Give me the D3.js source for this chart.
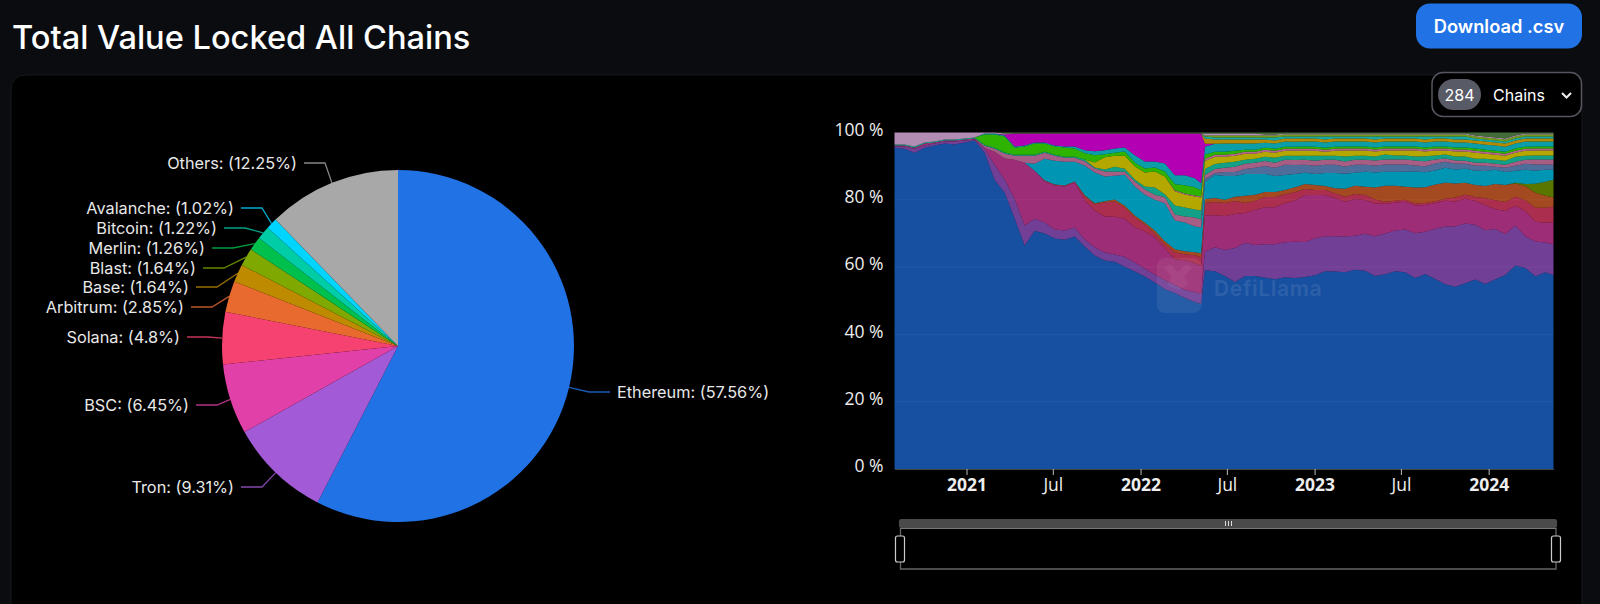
<!DOCTYPE html>
<meta charset="utf-8">
<style>

body {
	background: #0b0c0f;
	margin: 0;
	padding: 0;
	overflow: hidden;
}

svg {
	display: block;
}

text {
	font-family: Inter, "Noto Sans", sans-serif;
	fill: #fff;
}

.axis text {
	font-family: "Open Sans", "Noto Sans", sans-serif;
	font-size: 17.5px;
	fill: #eee;
}

.axis .domain {
	stroke: #444;
}

.axis line {
	stroke: #bbb;
}

.pie-label {
	font-size: 16.3px;
	fill: #e8e8e8;
}

</style>
<body>
	<div id="chart"></div>
	<script src="https://d3js.org/d3.v7.min.js"></script>
	<script>

	// Pie slices, clockwise from 12 o'clock
	var pieNames = ["Ethereum", "Tron", "BSC", "Solana", "Arbitrum", "Base", "Blast", "Merlin", "Bitcoin", "Avalanche", "Others"];
	var pieShares = [57.56, 9.31, 6.45, 4.8, 2.85, 1.64, 1.64, 1.26, 1.22, 1.02, 12.25];
	var pieColors = ["#2172e5", "#a35ad6", "#e040a8", "#f54270", "#e96a2f", "#bd8a00", "#7fa800", "#00c04d", "#00cca6", "#00d5ff", "#a8a8a8"];

	// Label rows of the pie, same order as the slices
	var labelElbowX = [589, 262, 217, 208, 212, 217, 224, 233, 245, 262, 325];
	var labelElbowY = [392, 487, 405, 337, 307, 287, 268, 248, 228, 208, 163];

	// Dates of the share readings
	var dates = ["2020-08-03", "2020-08-24", "2020-09-14", "2020-10-05", "2020-10-26", "2020-11-16", "2020-12-07", "2020-12-28", "2021-01-18",
		"2021-02-08", "2021-03-01", "2021-03-22", "2021-04-12", "2021-05-03", "2021-05-24", "2021-06-14", "2021-07-05", "2021-07-26", "2021-08-16", "2021-09-06", "2021-09-27",
		"2021-10-18", "2021-11-08", "2021-11-29", "2021-12-20", "2022-01-10", "2022-01-31", "2022-02-21", "2022-03-14", "2022-04-04", "2022-04-25", "2022-05-08",
		"2022-05-16", "2022-06-06", "2022-06-27", "2022-07-18", "2022-08-08", "2022-08-29", "2022-09-19", "2022-10-10", "2022-10-31", "2022-11-21",
		"2022-12-12", "2023-01-02", "2023-01-23", "2023-02-13", "2023-03-06", "2023-03-27", "2023-04-17", "2023-05-08", "2023-05-29", "2023-06-19",
		"2023-07-10", "2023-07-31", "2023-08-21", "2023-09-11", "2023-10-02", "2023-10-23", "2023-11-13", "2023-12-04", "2023-12-25", "2024-01-15",
		"2024-02-05", "2024-02-26", "2024-03-18", "2024-04-08", "2024-04-29", "2024-05-16"];

	// Share of each band in percent, bottom of the stack first
	var ethereum = [95.6,95.3,94.1,95.6,96.2,96.8,96.5,97.1,97.7,
		93.9,85.8,82.6,74.5,66.5,71.0,70.1,68.6,68.3,69.2,66.2,63.6,
		62.1,61.8,60.3,58.8,57.3,55.5,53.5,52.6,51.1,49.9,49.3,
		58.8,58.5,57.3,55.5,57.3,57.3,56.7,56.4,56.9,56.5,
		57.1,57.6,58.8,58.6,58.8,59.4,59.1,57.9,58.2,59.1,
		58.8,57.3,58.8,57.0,55.2,54.6,55.5,56.4,54.9,56.4,
		57.6,60.6,59.7,57.6,58.8,57.9];
	var tron = [.3,.6,1.2,.6,.6,.6,.9,.6,.3,
		1.2,4.5,3.9,5.9,5.9,3.6,3.3,2.7,2.7,2.7,2.1,2.4,
		2.4,2.1,3.0,2.7,2.4,2.4,2.7,2.4,2.4,3.0,3.0,
		5.6,7.1,7.7,10.1,9.8,9.2,9.8,10.4,10.4,10.7,
		10.4,11,10.4,10.4,10.7,10.1,11,11.9,12.2,12.2,
		12.8,13.4,12.8,15.1,17.2,18.1,17.8,16.3,16,14.9,
		12.2,11.9,9.5,10.4,8.9,9.2];
	var bsc = [.3,.3,.3,.6,.3,.3,.3,.3,.3,
		.3,3.9,6.2,11.6,18.7,14.3,12.2,13.1,13.1,13.4,11.6,11,
		10.7,11.3,11.3,10.4,11,11,9.5,7.7,8.9,8.6,8.3,
		10.7,9.5,10.1,10.1,8.9,10.4,11,11,11.6,12.2,
		14,12.8,12.2,11.3,10.4,11,10.1,9.8,8.9,8.3,
		8.3,8.3,8,7.7,7.7,7.4,7.4,7.1,7.4,5.9,
		6.8,5.9,7.4,5.9,5.9,6.5];
	var solana = [0,0,0,0,0,0,0,0,0,
		0,0,0,0,0,0,.3,.3,.3,.3,1.2,1.8,
		4.2,4.5,3.3,3,2.1,1.2,1.2,2.1,1.8,2.4,2.7,
		3.6,3.9,3.9,3.9,3,2.7,3,3,2.7,2.4,
		1.8,1.5,1.5,1.5,1.5,1.5,1.5,1.2,.6,.6,
		.6,.6,.6,.6,.6,1.2,1.2,1.2,2.1,2.7,
		2.7,2.7,3.3,4.2,4.5,4.8];
	var arbitrum = [0,0,0,0,0,0,0,0,0,
		0,0,0,0,0,0,0,0,0,0,.3,.3,
		.3,.6,.6,.6,.6,.9,.9,.9,.9,.9,1.2,
		1.2,1.2,.9,1.2,2.1,1.8,1.5,1.5,1.2,1.5,
		1.5,1.5,1.2,1.5,2.4,2.4,2.4,3.6,4.8,4.5,
		3.9,4.8,4.8,5,4.8,4.2,3.6,3.6,3.6,4.8,
		5,3.9,4.2,4.5,3.6,2.7];
	var base = [0,0,0,0,0,0,0,0,0,
		0,0,0,0,0,0,0,0,0,0,0,0,
		0,0,0,0,0,0,0,0,0,0,0,
		0,0,0,0,0,0,0,0,0,0,
		0,0,0,0,0,0,0,0,0,0,
		0,0,0,0,0,0,0,0,0,0,
		0,.2,.6,2.7,4.2,5.3];
	var tealBand = [0,0,0,0,0,0,0,0,0,
		0,0,0,0,0,2.1,6.5,7.1,7.1,5.9,8.9,9.2,
		7.4,7.1,9.2,8.6,8.3,9.2,11.3,8.6,8.6,7.7,7.7,
		5,6.8,7.1,6.2,6.5,6.2,5.3,4.8,4.5,3.9,
		3.3,3.3,3.9,4.5,4.5,3.9,4.5,4.5,4.2,4.2,
		4.5,4.8,4.5,4.2,4.5,4.2,4.2,4.2,4.5,4.2,
		3.9,3.6,4.2,3.9,3.6,3];
	var steelBand = [0,0,0,0,0,0,0,0,0,
		0,0,0,0,0,0,0,0,0,0,0,0,
		0,0,0,0,0,0,0,0,0,0,0,
		.9,.6,1.2,1.2,1.5,1.8,2.4,2.4,3,2.7,
		2.4,2.4,2.4,2.4,2.1,2.4,2.1,2.1,2.1,2.1,
		2.1,1.8,1.8,2.1,1.8,1.8,1.5,1.5,1.5,.9,
		1.2,1.5,1.8,1.8,1.5,1.5];
	var pinkBand = [0,0,0,0,0,0,0,0,0,
		.6,.9,1.5,1.2,2.1,2.4,1.8,1.5,1.2,1.2,1.2,1.2,
		1.5,1.2,.9,1.5,1.5,1.5,1.8,1.8,1.8,2.7,2.4,
		1.2,1.2,1.2,1.5,1.5,1.5,1.5,1.5,1.5,1.5,
		1.5,1.5,1.5,1.5,1.5,1.5,1.5,1.5,1.5,1.5,
		1.5,1.5,1.5,1.2,.9,.9,.9,.9,.9,.9,
		.9,1.2,1.2,1.5,1.5,1.5];
	var cyanBand = [.3,.3,.3,.3,.3,.3,.3,.3,.3,
		.3,.3,.3,.3,.3,.3,.3,.3,.3,.3,.6,.3,
		.6,1.5,.9,.6,.9,2.1,.9,2.7,2.7,2.4,2.7,
		1.8,1.5,1.5,1.5,1.2,1.2,1.2,1.5,1.2,1.2,
		1.2,1.5,1.2,1.2,1.5,1.2,1.2,1.2,1.5,1.2,
		1.2,1.2,1.5,1.2,1.2,1.2,1.2,1.2,1.2,1.2,
		1.2,1.5,1.2,1.2,1.2,1.2];
	var goldBand = [0,0,0,0,0,0,0,0,0,
		0,0,0,0,0,0,0,0,0,0,0,1.5,
		3.6,3.3,3.9,3.9,4.2,4.8,5.3,4.2,3.9,3.9,3.9,
		2.4,2.1,1.8,1.8,1.8,1.5,1.5,1.5,1.5,1.5,
		1.5,1.5,1.2,1.5,1.8,1.5,1.5,1.5,1.2,1.5,
		1.5,1.8,1.5,1.5,1.2,1.5,1.5,1.8,1.5,1.5,
		1.5,1.2,1.5,1.5,1.5,1.5];
	var rosePinkBand = [0,0,0,0,0,0,0,0,0,
		0,0,0,0,0,0,0,0,0,0,0,0,
		0,0,0,0,0,0,0,.3,.3,.3,.3,
		.6,.6,.6,.6,.6,.6,.6,.6,.6,.6,
		.6,.6,.6,.6,.6,.6,.6,.6,.6,.6,
		.6,.6,.6,.6,.6,.6,.6,.6,.6,.6,
		.6,.6,.6,.6,.6,.6];
	var greenBand = [0,0,0,0,0,0,0,0,0,
		3,3.9,4.8,2.1,2.4,3.3,2.4,2.4,2.7,2.4,1.8,2.1,
		.9,.9,1.2,1.2,1.2,1.2,1.5,1.8,2.4,2.4,1.8,
		1.2,.9,.9,.9,.6,.6,.6,.6,.6,.6,
		.6,.6,.6,.6,.6,.6,.6,.6,.6,.6,
		.6,.6,.6,.6,.6,.6,.6,.6,.6,.6,
		.6,.6,.6,.6,.6,.6];
	var aquaBand = [0,0,0,0,0,0,0,0,0,
		.3,.3,.3,.3,.3,.3,.3,.3,.3,.6,.9,1.2,
		1.2,1.2,1.2,2.1,2.1,1.8,2.4,2.7,3,2.7,2.1,
		2.4,2.4,2.4,2.1,1.8,1.8,1.5,1.5,1.5,1.5,
		1.5,1.5,1.5,1.5,1.5,1.5,1.5,1.5,1.5,1.5,
		1.5,1.5,1.5,1.5,1.5,1.5,1.5,1.5,1.5,1.5,
		1.5,1.5,1.5,1.5,1.5,1.5];
	var magentaBand = [0,0,0,0,0,0,0,0,0,
		0,0,.3,3.9,3.6,2.7,2.7,3.6,3.9,3.9,5,5.3,
		5,4.5,4.2,6.5,8.3,8.3,8.9,12.5,12.5,13.4,14.9,
		.9,0,0,0,0,0,0,0,0,0,
		0,0,0,0,0,0,0,0,0,0,
		0,0,0,0,0,0,0,0,0,0,
		0,0,0,0,0,0];
	var amberBand = [0,0,0,0,0,0,0,0,0,
		0,0,0,0,0,0,0,0,0,0,0,0,
		0,0,0,0,0,0,0,0,0,0,0,
		1.5,1.2,1.2,1.2,1.2,1.2,.9,.9,.9,.9,
		.9,.9,.9,.9,.9,.9,.9,.9,.9,.9,
		.9,.9,.9,.9,.9,.9,.9,.9,.9,.9,
		.9,.9,.9,.9,.9,.9];
	var skyBand = [0,0,0,0,0,0,0,0,0,
		0,0,0,0,0,0,0,0,0,0,0,0,
		0,0,0,0,0,0,0,0,0,0,0,
		.6,.6,.6,.6,.6,.6,.6,.9,.6,.6,
		.6,.6,.9,.6,.6,.6,.6,.9,.6,.6,
		.6,.6,.9,.6,.6,.9,.9,.6,.6,.6,
		.6,.6,.6,.6,.6,.6];
	var limeBand = [0,0,0,0,0,0,0,0,0,
		0,0,0,0,0,0,0,0,0,0,0,0,
		0,0,0,0,0,0,0,0,0,0,0,
		.3,.6,.6,.6,.6,.6,.6,.6,.6,.6,
		.6,.6,.6,.6,.6,.6,.6,.6,.6,.6,
		.6,.6,.6,.6,.6,.6,.6,.6,.6,.6,
		.6,.6,.6,.6,.6,.6];
	var mauveBand = [3.6,3.6,4.2,3,2.7,2.1,2.1,1.8,1.5,
		.3,.3,.3,0,0,0,0,0,0,0,0,0,
		0,0,0,0,0,0,0,0,0,0,0,
		.6,.6,.6,.6,.6,.6,.3,.3,.3,.3,
		.3,.3,.3,.3,.3,.3,.3,.3,.3,.3,
		.3,.3,.3,.3,.3,.3,.3,.3,.3,.3,
		.3,.3,.3,.3,.3,.3];
	var topBand = [0,0,0,0,0,0,0,0,0,
		0,0,.3,.3,.3,.3,.3,.3,.3,.3,.3,.3,
		.3,.3,.3,.3,.3,.3,.3,.3,.3,.3,.3,
		.3,.3,.3,.3,.3,.3,.6,.6,.3,.3,
		.3,.3,.3,.3,.3,.3,.3,.3,.3,.3,
		.3,.3,.3,.3,.3,.3,.3,.9,1.2,1.5,
		1.8,.9,.3,.3,.3,.3];

	var bandKeys = ["ethereum", "tron", "bsc", "solana", "arbitrum", "base", "teal", "steel", "pink", "cyan", "gold", "rose", "green", "aqua", "magenta", "amber", "sky", "lime", "mauve", "top"];
	var bandValues = [ethereum, tron, bsc, solana, arbitrum, base, tealBand, steelBand, pinkBand, cyanBand, goldBand, rosePinkBand, greenBand, aquaBand, magentaBand, amberBand, skyBand, limeBand, mauveBand, topBand];
	var bandColors = ["#2172e5", "#a35ad6", "#e040a8", "#f54270", "#e96a2f", "#7fa800", "#00d5ff", "#6d9bdb", "#ee86be", "#19e6c0", "#ffee00", "#ff8fc8", "#40ff00", "#0fe0f0", "#ff00ff", "#ffc400", "#20f0f0", "#a0e020", "#ffc8ff", "#5f9a50"];

	var yTicks = [0, 0.2, 0.4, 0.6, 0.8, 1];
	var xTicks = ["2021-01-01", "2021-07-01", "2022-01-01", "2022-07-01", "2023-01-01", "2023-07-01", "2024-01-01"];

	var width = 1600,
		height = 604;

	var svg = d3.select("#chart").append("svg")
			.attr("width", width)
			.attr("height", height);

	// page header
	svg.append("text")
		.attr("x", 12)
		.attr("y", 49)
		.style("font-size", "32.6px")
		.style("font-weight", 500)
		.text("Total Value Locked All Chains");

	svg.append("rect")
		.attr("x", 11)
		.attr("y", 75)
		.attr("width", 1571)
		.attr("height", 560)
		.attr("rx", 14)
		.attr("fill", "#000")
		.attr("stroke", "#17181c");

	svg.append("rect")
		.attr("x", 1416)
		.attr("y", 3.5)
		.attr("width", 166)
		.attr("height", 45)
		.attr("rx", 14)
		.attr("fill", "#2172e5");

	svg.append("text")
		.attr("x", 1499)
		.attr("y", 33)
		.attr("text-anchor", "middle")
		.style("font-size", "18.3px")
		.style("font-weight", 600)
		.text("Download .csv");

	// chains dropdown
	svg.append("rect")
		.attr("x", 1432)
		.attr("y", 72.5)
		.attr("width", 149.5)
		.attr("height", 44)
		.attr("rx", 11)
		.attr("fill", "#000")
		.attr("stroke", "#55565f")
		.attr("stroke-width", 1.5);

	svg.append("rect")
		.attr("x", 1438)
		.attr("y", 79)
		.attr("width", 43)
		.attr("height", 31)
		.attr("rx", 15.5)
		.attr("fill", "#585a66");

	svg.append("text")
		.attr("x", 1459.5)
		.attr("y", 101)
		.attr("text-anchor", "middle")
		.style("font-size", "16px")
		.text("284");

	svg.append("text")
		.attr("x", 1493)
		.attr("y", 101)
		.style("font-size", "16px")
		.text("Chains");

	svg.append("path")
		.attr("d", "M1562 93l4.5 4.5 4.5-4.5")
		.attr("fill", "none")
		.attr("stroke", "#eee")
		.attr("stroke-width", 2);

	// pie
	var pieCenter = [398, 346],
		pieRadius = 176;

	var pie = d3.pie().sort(null).value(function(d) { return d.share; });
	var arc = d3.arc().innerRadius(0).outerRadius(pieRadius);

	var slices = pie(pieNames.map(function(name, i) {
		return {name: name, share: pieShares[i], color: pieColors[i], elbow: [labelElbowX[i], labelElbowY[i]]};
	}));

	var pieGroup = svg.append("g");

	pieGroup.selectAll(".slice")
			.data(slices)
		.enter().append("path")
			.attr("class", "slice")
			.attr("transform", "translate(" + pieCenter + ")")
			.attr("d", arc)
			.attr("fill", function(d) { return d.data.color; });

	pieGroup.selectAll(".pie-line")
			.data(slices)
		.enter().append("polyline")
			.attr("class", "pie-line")
			.attr("fill", "none")
			.attr("stroke", function(d) { return d.data.color; })
			.attr("stroke-opacity", 0.8)
			.attr("stroke-width", 1.3)
			.attr("points", function(d) {
				var mid = (d.startAngle + d.endAngle) / 2;
				var start = [pieCenter[0] + pieRadius * Math.sin(mid), pieCenter[1] - pieRadius * Math.cos(mid)];
				var side = mid < Math.PI ? 1 : -1;
				return [start, d.data.elbow, [d.data.elbow[0] + side * 21, d.data.elbow[1]]].join(" ");
			});

	pieGroup.selectAll(".pie-label")
			.data(slices)
		.enter().append("text")
			.attr("class", "pie-label")
			.attr("x", function(d) {
				var side = (d.startAngle + d.endAngle) / 2 < Math.PI ? 1 : -1;
				return d.data.elbow[0] + side * 28;
			})
			.attr("y", function(d) { return d.data.elbow[1]; })
			.attr("dy", "0.35em")
			.attr("text-anchor", function(d) { return (d.startAngle + d.endAngle) / 2 < Math.PI ? "start" : "end"; })
			.text(function(d) { return d.data.name + ": (" + d.data.share + "%)"; });

	// stacked area
	var parseDate = d3.utcParse("%Y-%m-%d");

	var rows = dates.map(function(date, i) {
		var row = {date: parseDate(date)};
		bandKeys.forEach(function(key, k) { row[key] = bandValues[k][i]; });
		return row;
	});

	var x = d3.scaleUtc()
		.domain([rows[0].date, rows[rows.length - 1].date])
		.range([894.5, 1553.5]);

	var y = d3.scaleLinear()
		.domain([0, 1])
		.range([469, 132.5]);

	var stacked = d3.stack()
		.keys(bandKeys)
		.offset(d3.stackOffsetExpand)(rows);

	var area = d3.area()
		.x(function(d) { return x(d.data.date); })
		.y0(function(d) { return y(d[0]); })
		.y1(function(d) { return y(d[1]); });

	svg.append("g").selectAll("path")
			.data(stacked)
		.enter().append("path")
			.attr("d", area)
			.attr("fill", function(d, i) { return bandColors[i]; })
			.attr("fill-opacity", 0.7);

	// faint grid over the areas
	svg.append("g").selectAll("line")
			.data(yTicks.slice(1, 5))
		.enter().append("line")
			.attr("x1", x.range()[0])
			.attr("x2", x.range()[1])
			.attr("y1", function(d) { return y(d); })
			.attr("y2", function(d) { return y(d); })
			.attr("stroke", "#fff")
			.attr("stroke-opacity", 0.05);

	// DefiLlama watermark
	var mark = svg.append("g").attr("fill", "#fff");

	mark.append("path")
		.attr("d", "M1165 258h28a9 9 0 0 1 9 9v37a9 9 0 0 1-9 9h-28a8 8 0 0 1-8-8v-39a8 8 0 0 1 8-8z")
		.attr("fill-opacity", 0.07);

	mark.append("path")
		.attr("d", "M1170 264l8 8 8-8 6 4-8 9 5 8-11 5-11-5 5-8-8-9z")
		.attr("fill-opacity", 0.05);

	mark.append("text")
		.attr("x", 1214)
		.attr("y", 296)
		.style("font-size", "21px")
		.style("font-weight", 700)
		.style("letter-spacing", "0.6px")
		.style("fill", "#fff")
		.style("fill-opacity", 0.09)
		.text("DefiLlama");

	// axes
	svg.append("g")
		.attr("class", "axis")
		.attr("transform", "translate(894.5,0)")
		.call(d3.axisLeft(y)
			.tickValues(yTicks)
			.tickSize(0)
			.tickPadding(11)
			.tickFormat(function(d) { return Math.round(d * 100) + " %"; }))
		.call(function(g) { g.select(".domain").remove(); })
		.selectAll(".tick text")
			.attr("y", -3);

	var xAxis = svg.append("g")
		.attr("class", "axis")
		.attr("transform", "translate(0,469)")
		.call(d3.axisBottom(x)
			.tickValues(xTicks.map(parseDate))
			.tickSize(6)
			.tickSizeOuter(0)
			.tickPadding(4)
			.tickFormat(function(d) {
				return d.getUTCMonth() === 0 ? d3.utcFormat("%Y")(d) : d3.utcFormat("%b")(d);
			}));

	xAxis.selectAll(".tick text")
		.style("font-weight", function(d) { return d.getUTCMonth() === 0 ? 700 : 400; });

	// data zoom slider
	var slider = svg.append("g");

	slider.append("rect")
		.attr("x", 899)
		.attr("y", 519)
		.attr("width", 658)
		.attr("height", 9)
		.attr("rx", 2)
		.attr("fill", "#4a4a4a");

	slider.append("path")
		.attr("d", "M900.5 528V569H1556V528")
		.attr("fill", "none")
		.attr("stroke", "#666")
		.attr("stroke-width", 1.3);

	slider.append("path")
		.attr("d", "M900 528.5H1556")
		.attr("stroke", "#777");

	slider.append("path")
		.attr("d", "M1225.5 521v5M1228.5 521v5M1231.5 521v5")
		.attr("stroke", "#ddd")
		.attr("stroke-width", 1);

	[900, 1556].forEach(function(cx) {
		slider.append("rect")
			.attr("x", cx - 4.5)
			.attr("y", 536)
			.attr("width", 9)
			.attr("height", 26)
			.attr("rx", 2)
			.attr("fill", "#000")
			.attr("stroke", "#ccc")
			.attr("stroke-width", 1.2);
	});

	</script>
</body>
